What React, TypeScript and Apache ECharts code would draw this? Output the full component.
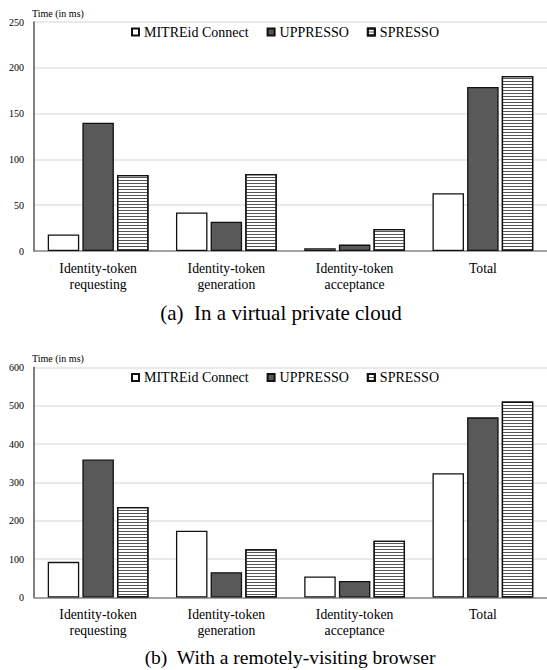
import React, { useEffect, useRef } from "react";
import * as echarts from "echarts";

const categories = [
  "Identity-token\nrequesting",
  "Identity-token\ngeneration",
  "Identity-token\nacceptance",
  "Total",
];
const seriesNames = ["MITREid Connect", "UPPRESSO", "SPRESSO"];

// (a) In a virtual private cloud
const cloudMitre = [18, 42, 3, 63];
const cloudUppresso = [140, 32, 7, 179];
const cloudSpresso = [83, 84, 24, 191];
const cloudAxis = { min: 0, max: 250, interval: 50 };

// (b) With a remotely-visiting browser
const browserMitre = [93, 174, 55, 324];
const browserUppresso = [360, 66, 43, 470];
const browserSpresso = [236, 126, 148, 511];
const browserAxis = { min: 0, max: 600, interval: 100 };

const yAxisName = "Time (in ms)";
const captions = ["(a)  In a virtual private cloud", "(b)  With a remotely-visiting browser"];

const FONT = "Liberation Serif";

const seriesStyles = [
  { color: "#ffffff", borderColor: "#111", borderWidth: 1.3 },
  { color: "#595959", borderColor: "#111", borderWidth: 1.3 },
  {
    color: "#ffffff",
    borderColor: "#111",
    borderWidth: 1.3,
    decal: {
      symbol: "rect",
      symbolSize: 1,
      dashArrayX: [1, 0],
      dashArrayY: [1, 1.4],
      rotation: 0,
      color: "#555",
    },
  },
];

export default function App() {
  const ref = useRef<HTMLDivElement>(null);
  useEffect(() => {
    if (!ref.current) return;
    const chart = echarts.init(ref.current, undefined, { renderer: "svg" });
    const grids = [
      { left: 34, top: 22, width: 516, height: 229 },
      { left: 34, top: 367.5, width: 516, height: 230 },
    ];
    const axes = [cloudAxis, browserAxis];
    const data = [
      [cloudMitre, cloudUppresso, cloudSpresso],
      [browserMitre, browserUppresso, browserSpresso],
    ];
    const legendTops = [20, 365.5];

    const series: any[] = [];
    data.forEach((group, gi) => {
      group.forEach((vals, si) => {
        series.push({
          type: "bar",
          name: seriesNames[si],
          xAxisIndex: gi,
          yAxisIndex: gi,
          data: vals,
          barWidth: 31.5,
          barGap: "10%",
          itemStyle: seriesStyles[si],
          emphasis: { disabled: true },
        });
      });
    });

    chart.setOption({
      animation: false,
      textStyle: { fontFamily: FONT },
      grid: grids,
      legend: legendTops.map((t) => ({
        data: seriesNames,
        left: 126,
        top: t,
        itemWidth: 7,
        itemHeight: 7,
        itemGap: 18,
        icon: "rect",
        textStyle: { fontFamily: FONT, fontSize: 14, color: "#000" },
      })),
      xAxis: [0, 1].map((gi) => ({
        type: "category",
        gridIndex: gi,
        data: categories,
        axisLine: { lineStyle: { color: "#8a8a8a", width: 1.5 } },
        axisTick: { show: false },
        axisLabel: {
          fontFamily: FONT,
          fontSize: 13.7,
          lineHeight: 16,
          color: "#000",
          margin: 9,
          interval: 0,
        },
      })),
      yAxis: [0, 1].map((gi) => ({
        type: "value",
        gridIndex: gi,
        min: axes[gi].min,
        max: axes[gi].max,
        interval: axes[gi].interval,
        name: yAxisName,
        nameLocation: "end",
        nameGap: 4,
        nameTextStyle: { fontFamily: FONT, fontSize: 10, color: "#000", align: "left", padding: [0, 0, 0, -2] },
        axisLine: { show: true, lineStyle: { color: "#555", width: 1.5 } },
        axisTick: { show: false },
        axisLabel: { fontFamily: FONT, fontSize: 10, color: "#000", margin: 10 },
        splitLine: { show: true, lineStyle: { color: "#e3e3e3", width: 1.5 } },
      })),
      series,
      graphic: [
        {
          type: "text",
          x: 281,
          y: 313,
          style: {
            text: captions[0],
            fontFamily: FONT,
            fontSize: 21,
            fill: "#000",
            textAlign: "center",
            textVerticalAlign: "middle",
          },
        },
        {
          type: "text",
          x: 290,
          y: 657,
          style: {
            text: captions[1],
            fontFamily: FONT,
            fontSize: 19.5,
            fill: "#000",
            textAlign: "center",
            textVerticalAlign: "middle",
          },
        },
      ],
    });
    return () => chart.dispose();
  }, []);
  return (
    <div
      ref={ref}
      style={{ position: "absolute", left: 0, top: 0, width: 547, height: 670, background: "#fff" }}
    />
  );
}
